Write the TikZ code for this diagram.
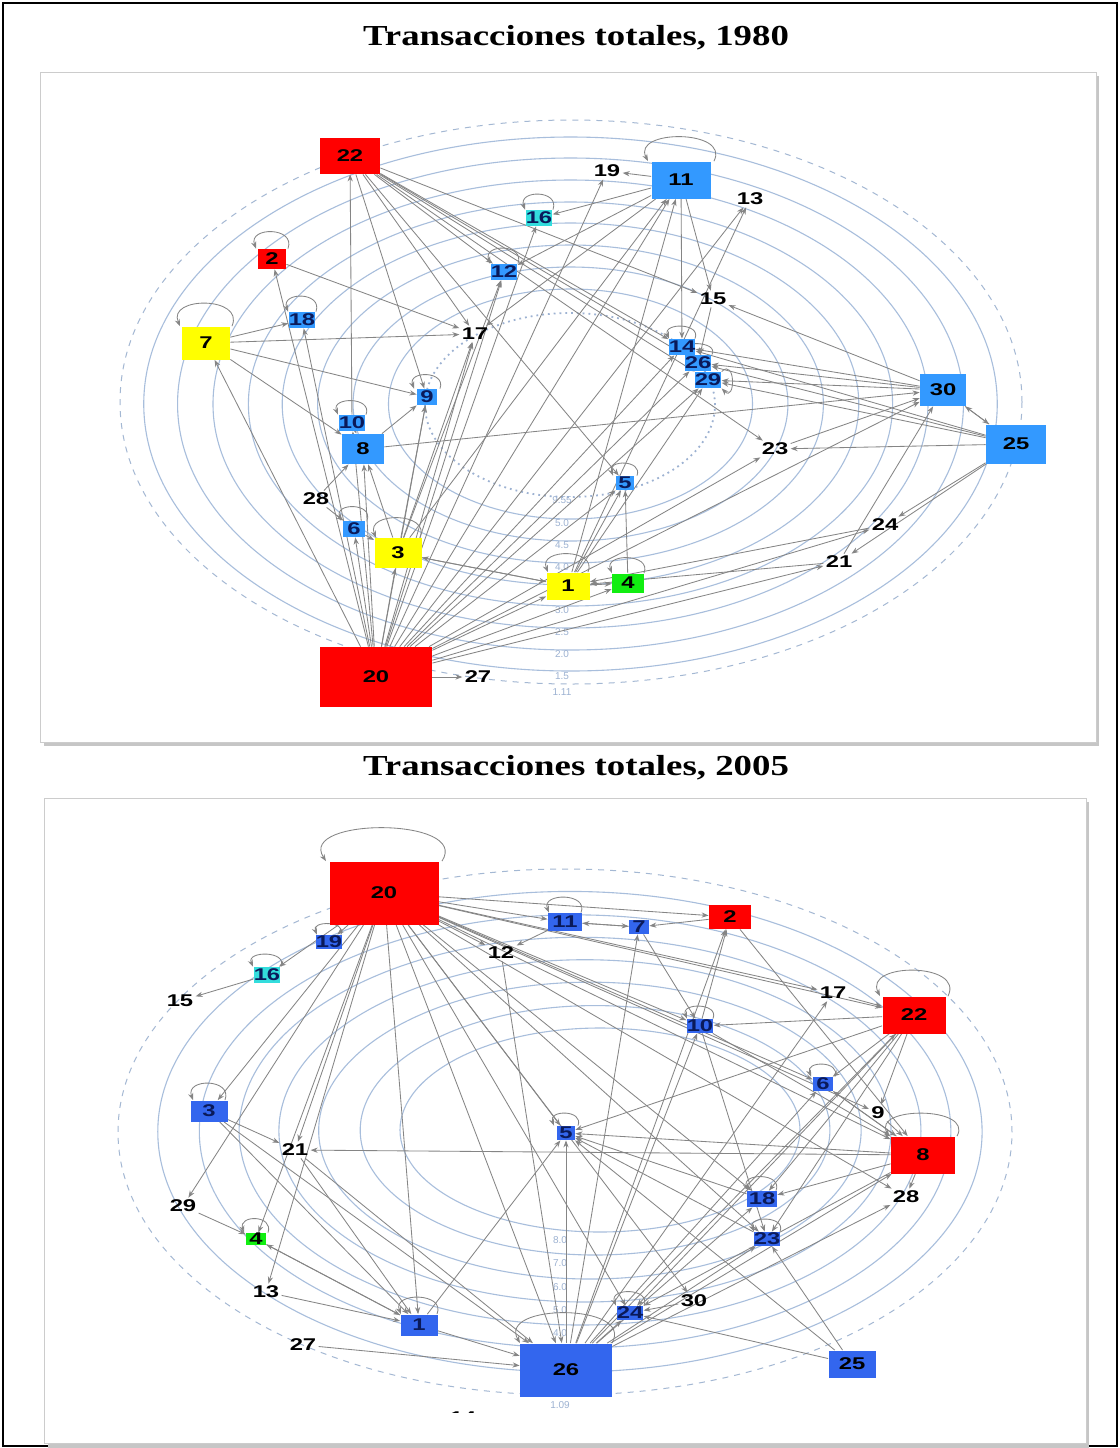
\documentclass[tikz,border=0pt]{standalone}
\usepackage{fontspec}
\setmainfont{Liberation Serif}
\newfontfamily\tfont[FakeStretch=1.27]{Liberation Serif}
\newfontfamily\nfont[FakeStretch=1.4]{Liberation Sans}
\newfontfamily\afont{Liberation Sans}
\usetikzlibrary{arrows.meta,calc}
\definecolor{bA}{HTML}{3399FF}
\definecolor{bB}{HTML}{3366EE}
\definecolor{rd}{HTML}{FF0000}
\definecolor{yl}{HTML}{FFFF00}
\definecolor{gn}{HTML}{11EE11}
\definecolor{cy}{HTML}{33DDDD}
\definecolor{ellc}{HTML}{A8BEDC}
\definecolor{navy}{HTML}{0A1A5A}
\definecolor{edgc}{HTML}{858585}
\definecolor{axc}{HTML}{9DB2D2}
\pgfdeclarelayer{bg}
\pgfdeclarelayer{edl}
\pgfsetlayers{bg,edl,main}
\newcommand\lpx[3]{\draw[edg] ($(#1.north)+(#2,0)$) .. controls +(0.5*#2,-#3) and +(-0.5*#2,-#3) .. ($(#1.north)+(-#2,0)$);}
\begin{document}
\begin{tikzpicture}[x=0.5pt,y=-0.5pt,
  box/.style={draw=none,inner sep=0pt,font=\nfont\bfseries\fontsize{8.5}{8.5}\selectfont,text=black},
  sm/.style={box,text=navy},
  lab/.style={inner sep=1pt,font=\nfont\bfseries\fontsize{8.5}{8.5}\selectfont,text=black},
  edg/.style={draw=edgc,line width=0.42pt,-{Stealth[length=3.5pt,width=2.6pt]}},
  ell/.style={draw=ellc,line width=0.55pt},
  axl/.style={inner sep=0pt,font=\afont\fontsize{5}{5}\selectfont,text=axc},
  ttl/.style={inner sep=0pt,font=\tfont\bfseries\fontsize{14.5}{14.5}\selectfont}]
\useasboundingbox (0,0) rectangle (1120,1448);
\begin{pgfonlayer}{bg}
\fill[white] (0,0) rectangle (1120,1448);
\draw[line width=1.2pt] (3,3) rectangle (1117,1446);
% panel 1
\fill[gray!45] (44,76) rectangle (1099,746);
\draw[draw=gray!40,fill=white] (40,72) rectangle (1096,742);
% panel 2
\fill[gray!45] (48,802) rectangle (1089,1448);
\draw[draw=gray!40,fill=white] (44,798) rectangle (1086,1443);
% ellipses panel 1
\foreach \b in {519,541,563,585,606,628,650,671} {
  \pgfmathsetmacro\ry{(\b-404)/2}
  \pgfmathsetmacro\rx{(145+(\b-404-92)*1.61)/2}
  \draw[ell] (570.5,404) ellipse[x radius=\rx pt,y radius=\ry pt];
}
\draw[draw=axc,dotted,line width=0.9pt] (570,405) ellipse[x radius=72.5pt,y radius=46pt];
\draw[draw=ellc!90!gray,dashed,line width=0.5pt] (571,402) ellipse[x radius=225.5pt,y radius=141pt];
\foreach \t/\y in {9.55/500,5.0/523,4.5/545,4.0/567,3.0/610,2.5/632,2.0/654,1.5/676,1.11/692}
  {\node[axl] at (562,\y) {\t};}
% ellipses panel 2
\foreach \b in {1232,1255,1279,1302,1325,1348,1372} {
  \pgfmathsetmacro\tq{(\b-1232)/163}
  \pgfmathsetmacro\cx{600-35*\tq}
  \pgfmathsetmacro\cy{1130+2*\tq}
  \pgfmathsetmacro\ry{(\b-\cy)/2}
  \pgfmathsetmacro\rx{(200+247*\tq)/2}
  \draw[ell] (\cx,\cy) ellipse[x radius=\rx pt,y radius=\ry pt];
}
\draw[draw=ellc!90!gray,dashed,line width=0.5pt] (565,1132) ellipse[x radius=223.5pt,y radius=131.5pt];
\foreach \t/\y in {8.0/1240,7.0/1263,6.0/1287,5.0/1310,4.0/1333,1.09/1405}
  {\node[axl] at (560,\y) {\t};}
\end{pgfonlayer}
% titles
\node[ttl] (t1) at (576,38) {Transacciones totales, 1980};
\node[ttl] (t2) at (576,768) {Transacciones totales, 2005};
% ---------- panel 1 nodes
\node[box,fill=rd,minimum width=30pt,minimum height=18pt] (a22) at (350,156) {22};
\node[box,fill=bA,minimum width=29.5pt,minimum height=18.5pt] (a11) at (681,180) {11};
\node[lab] (a19) at (607,171) {19};
\node[lab] (a13) at (750,199) {13};
\node[sm,fill=cy,minimum width=13pt,minimum height=8pt] (a16) at (539,218) {16};
\node[box,fill=rd,minimum width=14pt,minimum height=10pt] (a2) at (272,259) {2};
\node[sm,fill=bA,minimum width=12pt,minimum height=8pt] (a12) at (504,272) {12};
\node[lab] (a15) at (713,299) {15};
\node[sm,fill=bA,minimum width=12pt,minimum height=8pt] (a18) at (302,320) {18};
\node[lab] (a17) at (475,334) {17};
\node[box,fill=yl,minimum width=24pt,minimum height=16.5pt] (a7) at (206,343) {7};
\node[sm,fill=bA,minimum width=11pt,minimum height=8pt] (a14) at (682,347) {14};
\node[sm,fill=bA,minimum width=12pt,minimum height=8pt] (a26) at (698,363) {26};
\node[sm,fill=bA,minimum width=11pt,minimum height=8pt] (a29) at (708,380) {29};
\node[sm,fill=bA,minimum width=10pt,minimum height=8pt] (a9) at (427,397) {9};
\node[box,fill=bA,minimum width=23pt,minimum height=16pt] (a30) at (943,390) {30};
\node[sm,fill=bA,minimum width=12pt,minimum height=8pt] (a10) at (352,423) {10};
\node[box,fill=bA,minimum width=21pt,minimum height=15pt] (a8) at (363,449) {8};
\node[box,fill=bA,minimum width=30pt,minimum height=19.5pt] (a25) at (1016,444) {25};
\node[lab] (a23) at (775,449) {23};
\node[sm,fill=bA,minimum width=9pt,minimum height=7pt] (a5) at (625,483) {5};
\node[lab] (a28) at (316,499) {28};
\node[sm,fill=bA,minimum width=11pt,minimum height=8pt] (a6) at (354,529) {6};
\node[lab] (a24) at (885,525) {24};
\node[box,fill=yl,minimum width=23.5pt,minimum height=15pt] (a3) at (398,553) {3};
\node[lab] (a21) at (839,562) {21};
\node[box,fill=yl,minimum width=21.5pt,minimum height=13.5pt] (a1) at (568,586) {1};
\node[box,fill=gn,minimum width=16pt,minimum height=9.5pt] (a4) at (628,583) {4};
\node[box,fill=rd,minimum width=56pt,minimum height=30pt] (a20) at (376,677) {20};
\node[lab] (a27) at (478,677) {27};
% ---------- panel 2 nodes
\node[box,fill=rd,minimum width=54.5pt,minimum height=31.5pt] (b20) at (384,893) {20};
\node[sm,fill=bB,minimum width=17pt,minimum height=9pt] (b11) at (565,922) {11};
\node[sm,fill=bB,minimum width=10pt,minimum height=7pt] (b7) at (639,927) {7};
\node[box,fill=rd,minimum width=21pt,minimum height=12pt] (b2) at (730,917) {2};
\node[sm,fill=bB,minimum width=13pt,minimum height=7pt] (b19) at (329,942) {19};
\node[lab] (b12) at (501,953) {12};
\node[sm,fill=cy,minimum width=13pt,minimum height=8pt] (b16) at (267,975) {16};
\node[lab] (b15) at (180,1001) {15};
\node[lab] (b17) at (833,993) {17};
\node[box,fill=rd,minimum width=31.5pt,minimum height=18.5pt] (b22) at (914,1015) {22};
\node[sm,fill=bB,minimum width=13pt,minimum height=7pt] (b10) at (700,1026) {10};
\node[sm,fill=bB,minimum width=10pt,minimum height=7pt] (b6) at (823,1084) {6};
\node[box,fill=bB,text=navy,minimum width=18.5pt,minimum height=10.5pt] (b3) at (209,1111) {3};
\node[lab] (b9) at (878,1113) {9};
\node[sm,fill=bB,minimum width=9pt,minimum height=7pt] (b5) at (566,1133) {5};
\node[lab] (b21) at (295,1150) {21};
\node[box,fill=rd,minimum width=32pt,minimum height=18.5pt] (b8) at (923,1155) {8};
\node[lab] (b28) at (906,1197) {28};
\node[sm,fill=bB,minimum width=15pt,minimum height=8pt] (b18) at (762,1199) {18};
\node[lab] (b29) at (183,1206) {29};
\node[box,fill=gn,minimum width=10pt,minimum height=6pt] (b4) at (256,1239) {4};
\node[sm,fill=bB,minimum width=12pt,minimum height=7pt] (b23) at (767,1239) {23};
\node[lab] (b13) at (266,1292) {13};
\node[lab] (b30) at (694,1301) {30};
\node[sm,fill=bB,minimum width=13pt,minimum height=7pt] (b24) at (630,1313) {24};
\node[box,fill=bB,text=navy,minimum width=18.5pt,minimum height=10.5pt] (b1) at (419,1325) {1};
\node[lab] (b27) at (303,1345) {27};
\node[box,fill=bB,minimum width=46pt,minimum height=26.5pt] (b26) at (566,1370) {26};
\node[box,fill=bB,minimum width=23.5pt,minimum height=13.5pt] (b25) at (852,1364) {25};
\begin{scope}
\clip (400,1395) rectangle (530,1412);
\node[lab] (b14) at (463,1418) {14};
\end{scope}
% ---------- edges
\begin{pgfonlayer}{edl}
\foreach \s/\t in {a20/a7,a20/a18,a20/a2,a20/a10,a20/a8,a20/a6,a20/a3,a20/a9,a20/a17,a20/a12,a20/a16,a20/a19,a20/a11,a20/a14,a20/a26,a20/a29,a20/a5,a20/a1,a20/a30,a20/a24,a20/a21,a20/a27,a20/a13,a20/a4,a20/a23,a22/a9,a22/a17,a22/a12,a22/a14,a22/a26,a22/a29,a22/a23,a22/a5,a10/a22,a22/a15,a11/a16,a11/a12,a11/a14,a11/a15,a11/a17,a11/a19,a7/a18,a7/a17,a7/a9,a7/a8,a2/a17,a8/a9,a10/a8,a8/a30,a28/a8,a28/a6,a6/a3,a3/a8,a3/a1,a1/a3,a3/a9,a3/a17,a3/a12,a3/a11,a1/a4,a1/a11,a1/a5,a1/a29,a4/a5,a1/a13,a30/a14,a30/a26,a30/a29,a30/a25,a25/a30,a30/a15,a25/a26,a25/a29,a25/a14,a25/a23,a25/a24,a25/a21,a23/a30,a21/a30,a24/a1,a21/a1,a15/a26}
  {\draw[edg] (\s) -- (\t);}
\foreach \n/\w/\h in {a11/33/32,a16/14/20,a2/16/22,a12/14/20,a18/14/20,a7/26/30,a9/13/18,a10/14/18,a6/13/18,a3/22/26,a1/20/24,a4/16/20,a5/12/16,a14/13/16,a26/14/14}
  {\lpx{\n}{\w}{\h}}
\draw[edg] (a29.north east) .. controls +(14,-14) and +(14,14) .. (a29.south east);
\foreach \s/\t in {b20/b19,b20/b16,b16/b15,b20/b11,b20/b2,b20/b12,b20/b17,b20/b22,b20/b10,b20/b6,b20/b9,b20/b8,b20/b5,b20/b21,b20/b4,b20/b3,b20/b26,b20/b24,b20/b23,b20/b18,b20/b30,b20/b1,b20/b13,b20/b29,b20/b28,b11/b7,b7/b11,b2/b7,b11/b12,b26/b7,b7/b10,b10/b2,b26/b2,b17/b22,b26/b17,b22/b10,b22/b6,b22/b18,b22/b23,b22/b24,b22/b5,b22/b9,b8/b5,b8/b21,b8/b28,b8/b18,b9/b8,b6/b8,b8/b6,b10/b8,b2/b8,b8/b24,b26/b5,b26/b10,b26/b6,b26/b18,b26/b23,b26/b24,b26/b8,b26/b28,b26/b22,b1/b26,b27/b26,b3/b26,b21/b26,b25/b24,b25/b23,b25/b5,b30/b24,b3/b1,b4/b1,b1/b4,b21/b1,b13/b1,b1/b5,b29/b4,b3/b21,b12/b26,b10/b23,b18/b5,b23/b5}
  {\draw[edg] (\s) -- (\t);}
\foreach \n/\w/\h in {b20/58/44,b11/16/20,b22/34/34,b8/34/30,b10/13/16,b6/12/16,b3/16/22,b5/12/16,b18/14/18,b23/13/16,b24/14/18,b1/18/22,b4/12/18,b16/14/16,b19/12/14,b26/46/40}
  {\lpx{\n}{\w}{\h}}
\end{pgfonlayer}
\end{tikzpicture}
\end{document}
